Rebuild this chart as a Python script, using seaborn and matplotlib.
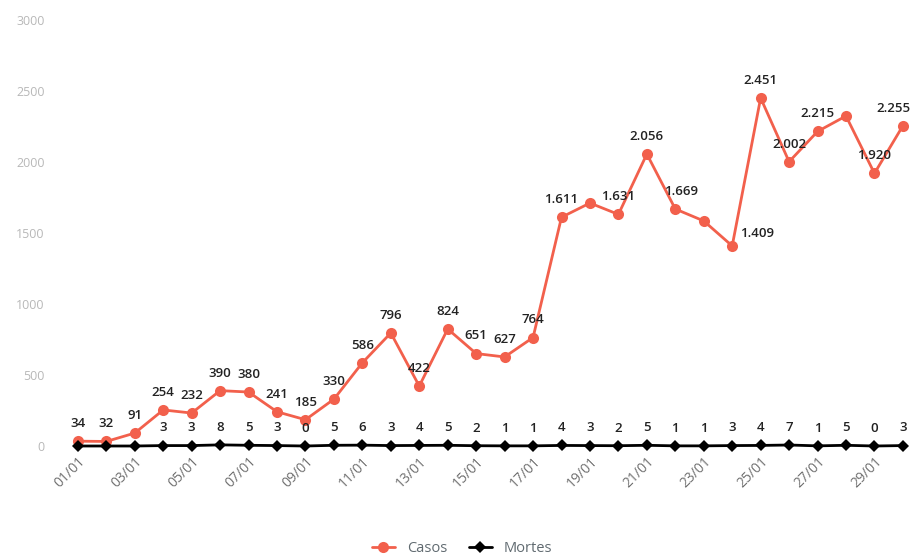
import matplotlib
matplotlib.use("Agg")
import matplotlib.pyplot as plt
import seaborn as sns
import pandas as pd
import numpy as np

dates = [f"{d:02d}/01" for d in range(1, 31)]
casos = [34, 32, 91, 254, 232, 390, 380, 241, 185, 330, 586, 796, 422, 824, 651,
         627, 764, 1611, 1711, 1631, 2056, 1669, 1585, 1409, 2451, 2002, 2215, 2324, 1920, 2255]
casos_labeled = [True] * 18 + [False, True, True, True, False, True, True, True, True, False, True, True]
mortes = [0, 0, 0, 3, 3, 8, 5, 3, 0, 5, 6, 3, 4, 5, 2, 1, 1, 4, 3, 2, 5, 1, 1, 3, 4, 7, 1, 5, 0, 3]
mortes_labeled = [False, False, False] + [True] * 27
yticks = [0, 500, 1000, 1500, 2000, 2500, 3000]

RED = "#f2604c"
sns.set_theme(style="white")
plt.rcParams['font.family'] = ['Open Sans', 'DejaVu Sans']

fig = plt.figure(figsize=(9.17, 5.56), dpi=100)
ax = fig.add_axes([50 / 917, 1 - 446 / 556, 860 / 917, 426 / 556])

df = pd.DataFrame({"x": np.arange(len(dates)), "Casos": casos, "Mortes": mortes})
sns.lineplot(data=df, x="x", y="Casos", ax=ax, color=RED, marker="o", markersize=8,
             markeredgewidth=0, linewidth=2, clip_on=False, label="Casos")
sns.lineplot(data=df, x="x", y="Mortes", ax=ax, color="black", marker="D", markersize=6,
             markeredgewidth=0, linewidth=2, clip_on=False, label="Mortes", zorder=3)

special = {23: (18, 4), 21: (4, 8), 25: (0, 8), 28: (0, 8), 29: (-7, 8)}
for i, (v, show) in enumerate(zip(casos, casos_labeled)):
    if not show:
        continue
    txt = f"{v:,}".replace(",", ".")
    dx, dy = special.get(i, (0, 8))
    ax.annotate(txt, (i, v), xytext=(dx, dy), textcoords="offset points",
                ha="center", va="bottom", fontsize=9.5, color="#222222", fontweight="semibold")
for i, (v, show) in enumerate(zip(mortes, mortes_labeled)):
    if not show:
        continue
    ax.annotate(str(v), (i, v), xytext=(0, 8), textcoords="offset points",
                ha="center", va="bottom", fontsize=9.5, color="#222222", fontweight="semibold")

ax.set_xlim(-0.98, 29.25)
ax.set_ylim(0, 3000)
ax.set_yticks(yticks)
ax.set_yticklabels([str(t) for t in yticks], color="#b8b8b8", fontsize=9)
ax.set_xticks(np.arange(0, 30, 2))
ax.set_xticklabels(dates[::2], rotation=45, ha="right", rotation_mode="anchor",
                   color="#707070", fontsize=10)
ax.tick_params(axis="x", length=0, pad=6)
ax.tick_params(axis="y", length=0, pad=4)
ax.set_xlabel("")
ax.set_ylabel("")
for s in ax.spines.values():
    s.set_visible(False)

leg = ax.legend(loc="lower center", bbox_to_anchor=(0.5 - 18 / 860, -0.29), ncol=2, frameon=False,
                fontsize=10.5, handlelength=1.6, columnspacing=1.5)
for t in leg.get_texts():
    t.set_color("#606a70")

fig.savefig("out.png", dpi=100)
